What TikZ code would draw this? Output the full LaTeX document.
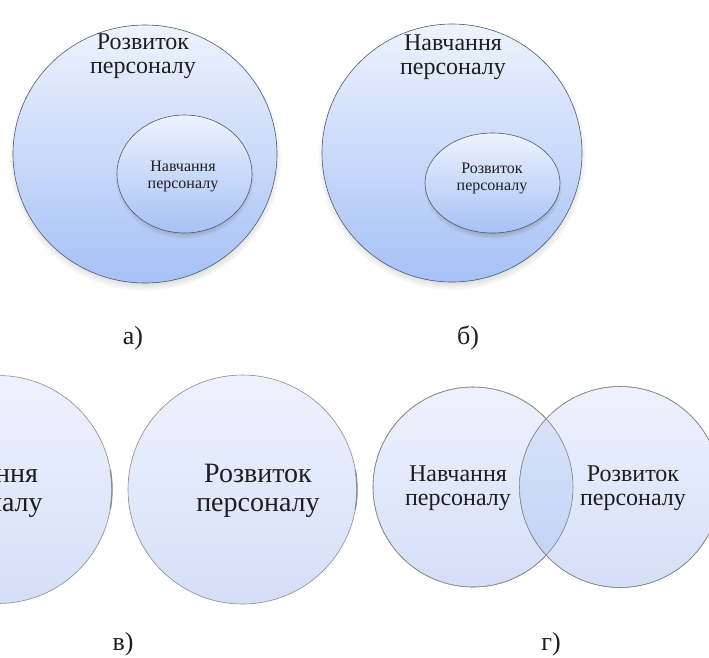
\documentclass[tikz,border=0pt]{standalone}
\usepackage{fontspec}
\setmainfont{Liberation Serif}
\usetikzlibrary{shadows,shapes.geometric,fadings}
\definecolor{abtop}{HTML}{EEF3FD}
\definecolor{abbot}{HTML}{A6C1F6}
\definecolor{abline}{HTML}{4F5B73}
\definecolor{cdtop}{HTML}{EEF2FD}
\definecolor{cdbot}{HTML}{D4DFF8}
\definecolor{cdline}{HTML}{8C8C8C}
\definecolor{lenstop}{HTML}{DEE7FA}
\definecolor{lensbot}{HTML}{BCCFF4}
\definecolor{txt}{HTML}{1E1E1E}
\tikzset{
  abshape/.style={ellipse, inner sep=0pt, outer sep=0pt, draw=abline, line width=0.6pt,
    top color=abtop, bottom color=abbot,
    circular drop shadow={shadow scale=1.03, shadow xshift=0pt, shadow yshift=-4pt, opacity=0.6}},
  cdshape/.style={circle, inner sep=0pt, outer sep=0pt, draw=cdline, line width=0.6pt,
    top color=cdtop, bottom color=cdbot},
  bigtxt/.style={align=center, text=txt, inner sep=0pt, font=\fontsize{24}{24}\selectfont},
  smalltxt/.style={align=center, text=txt, inner sep=0pt, font=\fontsize{16}{17}\selectfont},
  vtxt/.style={align=center, text=txt, inner sep=0pt, font=\fontsize{28}{29}\selectfont},
  lbl/.style={anchor=base, text=txt, inner sep=0pt, font=\fontsize{26}{26}\selectfont},
}
\begin{document}
\begin{tikzpicture}[x=1pt,y=-1pt]
\useasboundingbox (0,0) rectangle (709,657);
\clip (0,0) rectangle (709,657);
\fill[white] (0,0) rectangle (709,657);
% panel a
\node[abshape, minimum width=264pt, minimum height=258pt] (Aout) at (145,154) {};
\node[abshape, minimum width=135pt, minimum height=118pt] (Ain) at (184.5,174) {};
\node[bigtxt] (Atxt) at (143,56) {Розвиток\\персоналу};
\node[smalltxt] (Aintxt) at (183,176) {Навчання\\персоналу};
\node[lbl] (Alab) at (133,344) {а)};
% panel b
\node[abshape, minimum width=260pt, minimum height=258pt] (Bout) at (452,153) {};
\node[abshape, minimum width=135pt, minimum height=100pt] (Bin) at (492.5,183) {};
\node[bigtxt] (Btxt) at (453,57) {Навчання\\персоналу};
\node[smalltxt] (Bintxt) at (492,178) {Розвиток\\персоналу};
\node[lbl] (Blab) at (468,344) {б)};
% panel v
\node[cdshape, minimum size=228pt] (Vl) at (-2,489.5) {};
\node[cdshape, minimum size=229pt] (Vr) at (242.5,489.5) {};
\draw[cdline, line width=1.4pt] (-2,489.5) ++(-10:114) arc[start angle=-10, end angle=10, radius=114];
\draw[cdline, line width=1.4pt] (242.5,489.5) ++(-10:114.5) arc[start angle=-10, end angle=10, radius=114.5];
\node[vtxt] (Vltxt) at (-19,491) {Навчання\\персоналу};
\node[vtxt] (Vrtxt) at (258,491) {Розвиток\\персоналу};
\node[lbl] (Vlab) at (123,650) {в)};
% panel g
\node[cdshape, minimum size=200pt] (Gl) at (473,487) {};
\node[cdshape, minimum size=201pt] (Gr) at (620,487) {};
\begin{scope}
  \clip (473,487) circle[radius=100];
  \fill[top color=lenstop, bottom color=lensbot] (620,487) circle[radius=100.5];
\end{scope}
\draw[cdline, line width=0.6pt] (473,487) circle[radius=100];
\draw[cdline, line width=0.6pt] (620,487) circle[radius=100.5];
\node[bigtxt] (Gltxt) at (458,488) {Навчання\\персоналу};
\node[bigtxt] (Grtxt) at (633,488) {Розвиток\\персоналу};
\node[lbl] (Glab) at (551,650) {г)};
\end{tikzpicture}
\end{document}
